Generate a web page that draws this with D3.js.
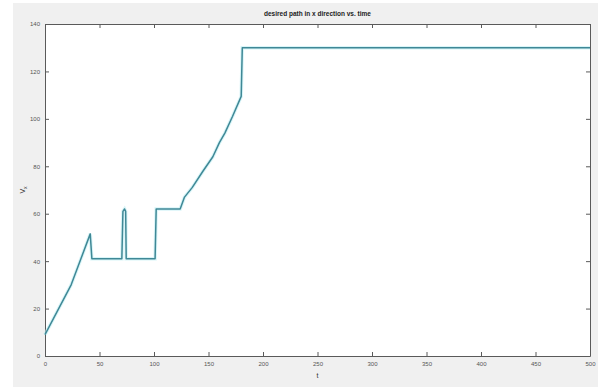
<!DOCTYPE html>
<html>
<head>
<meta charset="utf-8">
<script src="https://cdn.jsdelivr.net/npm/d3@7"></script>
<style>
  html, body { margin: 0; padding: 0; background: #ffffff; }
  svg { display: block; font-family: "Liberation Sans", Arial, sans-serif; }
</style>
</head>
<body>
<svg id="chart" width="598" height="387"></svg>
<script>
// Desired path in x direction over time
const tValues  = [0, 24, 41.5, 43, 70.5, 71.5, 73, 74, 74.5, 101, 102, 124, 128, 135, 145, 154, 160, 165, 172, 180, 181, 500];
const vxValues = [9, 30, 51.5, 41, 41, 61, 62, 61, 41, 41, 62, 62, 67, 71, 78, 84, 90, 94, 101, 109.5, 130, 130];
const xTicks = [0, 50, 100, 150, 200, 250, 300, 350, 400, 450, 500];
const yTicks = [0, 20, 40, 60, 80, 100, 120, 140];

const titleText = "desired path in x direction vs. time";
const xLabel = "t";

const svg = d3.select("#chart");
const W = 598, H = 387;
const box = { left: 45, right: 590, top: 24, bottom: 356 };

// figure background
svg.append("rect").attr("x", 13).attr("y", 3).attr("width", W - 13).attr("height", H - 3)
  .attr("fill", "#f0f0f0");

// axes background
svg.append("rect").attr("x", box.left).attr("y", box.top)
  .attr("width", box.right - box.left).attr("height", box.bottom - box.top)
  .attr("fill", "#ffffff");

const x = d3.scaleLinear().domain([0, 500]).range([box.left, box.right]);
const y = d3.scaleLinear().domain([0, 140]).range([box.bottom, box.top]);

const axisColor = "#5a5a5a";
const tickLen = 4;

function styleAxis(g, showLabels) {
  g.select(".domain").attr("stroke", axisColor).attr("stroke-width", 1);
  g.selectAll(".tick line").attr("stroke", axisColor);
  g.selectAll(".tick text").attr("fill", "#555").attr("font-size", 6)
    .style("display", showLabels ? null : "none");
}

// bottom and top axes (ticks pointing inward)
svg.append("g").attr("transform", `translate(0,${box.bottom})`)
  .call(d3.axisBottom(x).tickValues(xTicks).tickSizeInner(-tickLen).tickSizeOuter(0).tickPadding(6))
  .call(g => styleAxis(g, true));
svg.append("g").attr("transform", `translate(0,${box.top})`)
  .call(d3.axisTop(x).tickValues(xTicks).tickSizeInner(-tickLen).tickSizeOuter(0))
  .call(g => styleAxis(g, false));

// left and right axes
svg.append("g").attr("transform", `translate(${box.left},0)`)
  .call(d3.axisLeft(y).tickValues(yTicks).tickSizeInner(-tickLen).tickSizeOuter(0).tickPadding(5))
  .call(g => styleAxis(g, true));
svg.append("g").attr("transform", `translate(${box.right},0)`)
  .call(d3.axisRight(y).tickValues(yTicks).tickSizeInner(-tickLen).tickSizeOuter(0))
  .call(g => styleAxis(g, false));

// data line
const pts = tValues.map((t, i) => [t, vxValues[i]]);
const line = d3.line().x(d => x(d[0])).y(d => y(d[1]));
svg.append("path").datum(pts).attr("d", line)
  .attr("fill", "none").attr("stroke", "#bfeff3").attr("stroke-width", 3.5).attr("opacity", 0.6);
svg.append("path").datum(pts).attr("d", line)
  .attr("fill", "none").attr("stroke", "#3f8896").attr("stroke-width", 1.5)
  .attr("stroke-linejoin", "round");

// title
svg.append("text").attr("x", (box.left + box.right) / 2).attr("y", 16)
  .attr("text-anchor", "middle").attr("font-size", 6.5).attr("font-weight", "bold")
  .attr("fill", "#222").text(titleText);

// x label
svg.append("text").attr("x", (box.left + box.right) / 2).attr("y", 378)
  .attr("text-anchor", "middle").attr("font-size", 7).attr("fill", "#333").text(xLabel);

// y label: V with subscript x
const yl = svg.append("text").attr("transform", `translate(25,${(box.top + box.bottom) / 2}) rotate(-90)`)
  .attr("text-anchor", "middle").attr("font-size", 7).attr("fill", "#333");
yl.append("tspan").text("V");
yl.append("tspan").attr("font-size", 5).attr("dy", 2).text("x");
</script>
</body>
</html>
